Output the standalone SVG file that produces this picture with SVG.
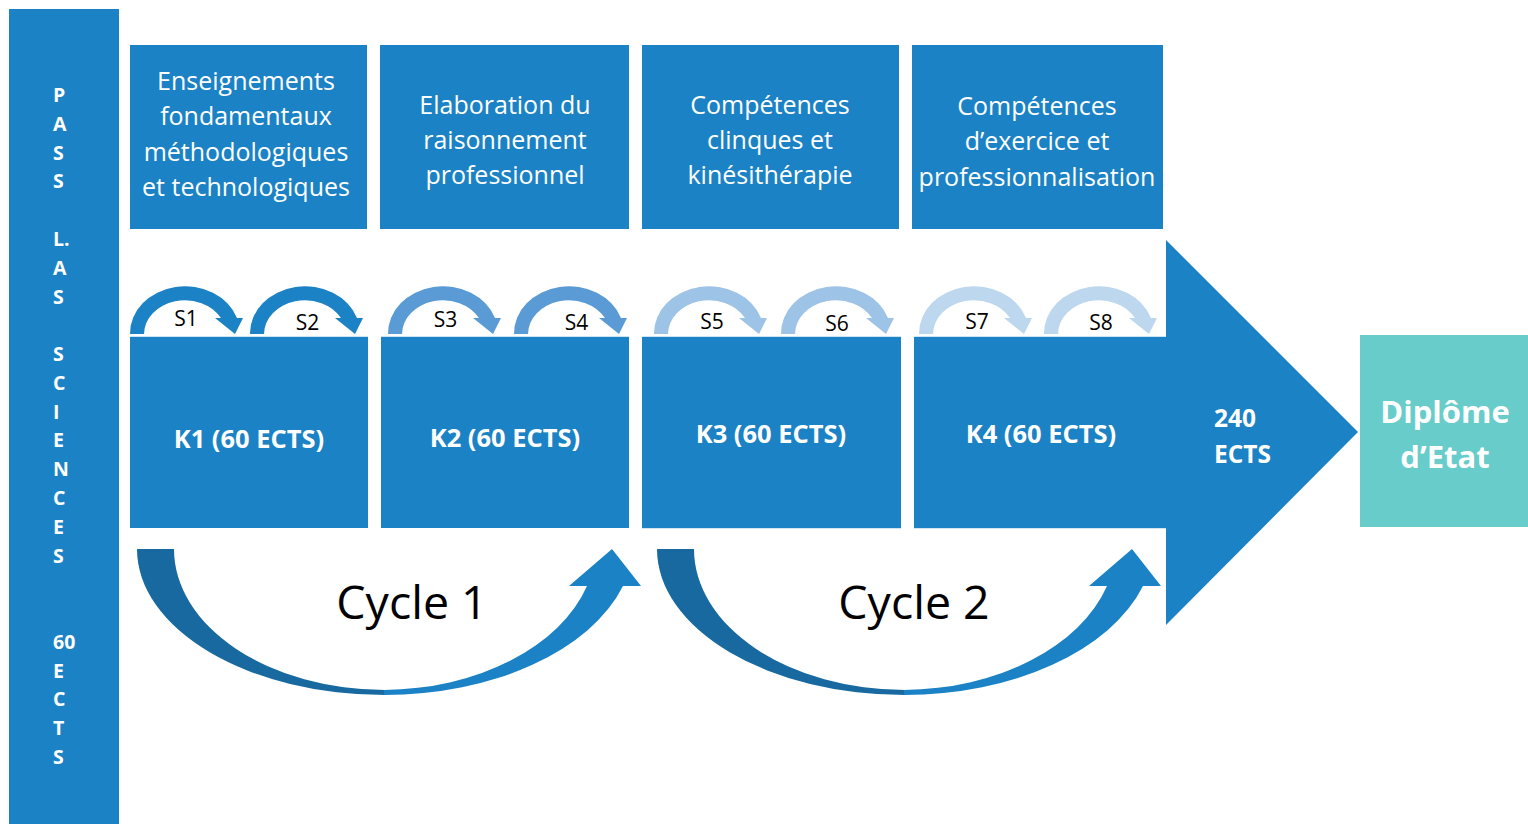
<svg xmlns="http://www.w3.org/2000/svg" xmlns:xlink="http://www.w3.org/1999/xlink" width="1528" height="824" viewBox="0 0 1528 824">
<style>
.blue{fill:#1B82C5}
.top{font-family:"Open Sans","Noto Sans",sans-serif;font-size:25px;fill:#ffffff;text-anchor:middle}
.k{font-family:"Open Sans","Noto Sans",sans-serif;font-size:25.5px;font-weight:bold;fill:#ffffff;text-anchor:middle}
.side{font-family:"Open Sans","Noto Sans",sans-serif;font-size:19.5px;font-weight:bold;fill:#ffffff}
.sem{font-family:"Open Sans","Noto Sans",sans-serif;font-size:21px;fill:#000000;text-anchor:middle}
.cyc{font-family:"Open Sans","Noto Sans",sans-serif;font-size:46.5px;fill:#000000;text-anchor:middle}
.edge{stroke:#cfe4f3;stroke-width:1;fill:none}
</style>
<defs>
<path id="semi" d="M130,334 A55,47 0 0 1 237,318 L243,318 L235,334 L215,318 L221,318 A41,34 0 0 0 144,334 Z"/>
<g id="cycarrow">
<path fill="#17699F" d="M657,549 A248,146 0 0 0 905,695 L905,690 A211,141 0 0 1 694,549 Z"/>
<path fill="#1B82C5" d="M904,695 A250,155 0 0 0 1143,586 L1161,586 L1132,549 L1089,586 L1107,586 A215,146 0 0 1 904,690 Z"/>
</g>
</defs>
<rect width="1528" height="824" fill="#ffffff"/>

<g id="side-bar">
<rect class="blue" x="9" y="9" width="110" height="815"/>
<text class="side">
<tspan x="53" y="102">P</tspan>
<tspan x="53" y="130.8">A</tspan>
<tspan x="53" y="159.6">S</tspan>
<tspan x="53" y="188.3">S</tspan>
<tspan x="53" y="245.9">L.</tspan>
<tspan x="53" y="274.7">A</tspan>
<tspan x="53" y="303.5">S</tspan>
<tspan x="53" y="361">S</tspan>
<tspan x="53" y="389.8">C</tspan>
<tspan x="53" y="418.6">I</tspan>
<tspan x="53" y="447.4">E</tspan>
<tspan x="53" y="476.1">N</tspan>
<tspan x="53" y="504.9">C</tspan>
<tspan x="53" y="533.7">E</tspan>
<tspan x="53" y="562.5">S</tspan>
<tspan x="53" y="649">60</tspan>
<tspan x="53" y="677.6">E</tspan>
<tspan x="53" y="706.4">C</tspan>
<tspan x="53" y="735.2">T</tspan>
<tspan x="53" y="764">S</tspan>
</text>
</g>

<g id="topic-1">
<rect class="blue" x="130" y="45" width="237" height="184"/>
<text class="top"><tspan x="246" y="90">Enseignements</tspan><tspan x="246" y="125">fondamentaux</tspan><tspan x="246" y="161">méthodologiques</tspan><tspan x="246" y="196">et technologiques</tspan></text>
</g>
<g id="topic-2">
<rect class="blue" x="380" y="45" width="249" height="184"/>
<text class="top"><tspan x="505" y="114">Elaboration du</tspan><tspan x="505" y="149">raisonnement</tspan><tspan x="505" y="184">professionnel</tspan></text>
</g>
<g id="topic-3">
<rect class="blue" x="642" y="45" width="257" height="184"/>
<text class="top"><tspan x="770" y="114">Compétences</tspan><tspan x="770" y="149">clinques et</tspan><tspan x="770" y="184">kinésithérapie</tspan></text>
</g>
<g id="topic-4">
<rect class="blue" x="912" y="45" width="251" height="184"/>
<text class="top"><tspan x="1037" y="115">Compétences</tspan><tspan x="1037" y="150">d’exercice et</tspan><tspan x="1037" y="186">professionnalisation</tspan></text>
</g>

<g id="arrow-240">
<polygon class="blue" points="1164,337 1166,337 1166,240 1358,432 1166,625 1166,528 1164,528"/>
<text class="k" style="text-anchor:start;font-size:24.5px"><tspan x="1214" y="427">240</tspan><tspan x="1214" y="463">ECTS</tspan></text>
</g>

<g id="k1">
<rect class="blue" x="130" y="337" width="238" height="191"/>
<path class="edge" d="M130,336.5 H368"/>
<text class="k" x="249" y="448">K1 (60 ECTS)</text>
</g>
<g id="k2">
<rect class="blue" x="381" y="337" width="248" height="191"/>
<path class="edge" d="M381,336.5 H629"/>
<text class="k" x="505" y="447">K2 (60 ECTS)</text>
</g>
<g id="k3">
<rect class="blue" x="642" y="337" width="259" height="191"/>
<path class="edge" d="M642,336.5 H901 M642,528.5 H901"/>
<text class="k" x="771" y="443">K3 (60 ECTS)</text>
</g>
<g id="k4">
<rect class="blue" x="914" y="337" width="252" height="191"/>
<path class="edge" d="M914,336.5 H1166 M914,528.5 H1166"/>
<text class="k" x="1041" y="443">K4 (60 ECTS)</text>
</g>

<g id="diplome">
<rect x="1360" y="335" width="168" height="192" fill="#67CCCA"/>
<text class="k" style="font-size:31px"><tspan x="1445" y="423">Diplôme</tspan><tspan x="1445" y="468">d’Etat</tspan></text>
</g>

<g id="connectors">
<use xlink:href="#semi" href="#semi" fill="#1B82C5"/>
<use xlink:href="#semi" href="#semi" x="120" fill="#1B82C5"/>
<use xlink:href="#semi" href="#semi" x="258" fill="#5B9BD5"/>
<use xlink:href="#semi" href="#semi" x="384" fill="#5B9BD5"/>
<use xlink:href="#semi" href="#semi" x="524" fill="#9DC3E6"/>
<use xlink:href="#semi" href="#semi" x="651" fill="#9DC3E6"/>
<use xlink:href="#semi" href="#semi" x="789" fill="#BDD7EE"/>
<use xlink:href="#semi" href="#semi" x="914" fill="#BDD7EE"/>
<use xlink:href="#cycarrow" href="#cycarrow" x="-520"/>
<use xlink:href="#cycarrow" href="#cycarrow"/>
</g>

<g id="labels">
<text class="sem" x="186" y="326">S1</text>
<text class="sem" x="307.5" y="330">S2</text>
<text class="sem" x="445.5" y="327">S3</text>
<text class="sem" x="576.5" y="330">S4</text>
<text class="sem" x="712" y="329">S5</text>
<text class="sem" x="837" y="331">S6</text>
<text class="sem" x="977" y="329">S7</text>
<text class="sem" x="1101" y="330">S8</text>
<text class="cyc" x="412" y="619">Cycle 1</text>
<text class="cyc" x="914" y="619">Cycle 2</text>
</g>
</svg>
